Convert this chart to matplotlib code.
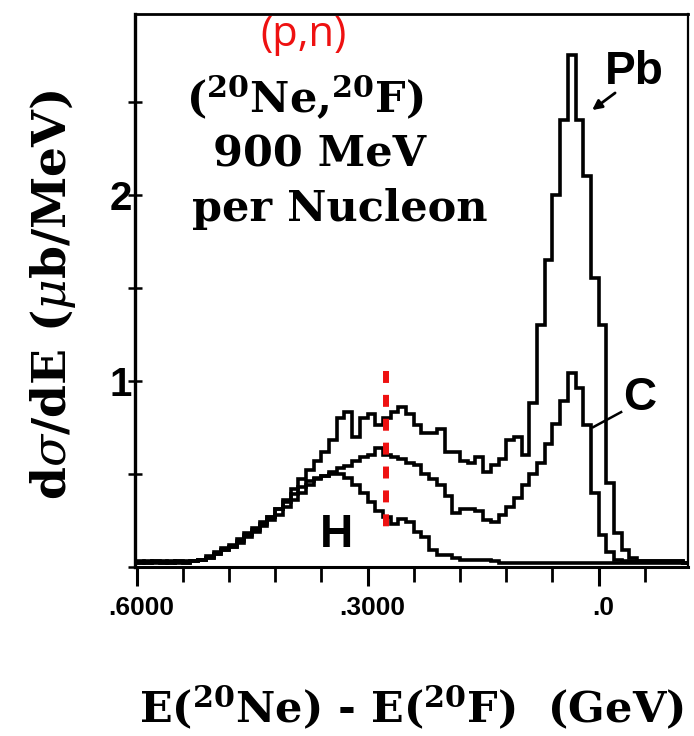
import matplotlib
matplotlib.use("Agg")
import matplotlib.pyplot as plt
import matplotlib.transforms as mtransforms
import numpy as np
from matplotlib.ticker import MultipleLocator, FixedLocator, FixedFormatter

plt.rcParams["mathtext.fontset"] = "dejavuserif"

# histogram bins: 10 MeV wide, listed from E = 0.60 GeV down to -0.12 GeV
bin_start = 0.60
bin_stop = -0.12
n_bins = 72

pb_vals = [0.02, 0.02, 0.03, 0.02, 0.02, 0.03, 0.02, 0.03,
           0.04, 0.05, 0.07, 0.09, 0.11, 0.14, 0.17, 0.20, 0.23, 0.27,
           0.31, 0.36, 0.42, 0.47, 0.52, 0.57, 0.62, 0.68, 0.80, 0.83,
           0.70, 0.80, 0.82, 0.76, 0.80, 0.83, 0.86, 0.82, 0.76, 0.72,
           0.72, 0.74, 0.62, 0.62, 0.57, 0.56, 0.59, 0.51, 0.55, 0.58,
           0.68, 0.70, 0.60, 0.88, 1.30, 1.65, 2.00, 2.40, 2.75, 2.40,
           2.10, 1.55, 1.30, 0.45, 0.18, 0.09, 0.05,
           0.03, 0.03, 0.03, 0.03, 0.03, 0.03, 0.02]

c_vals = [0.02, 0.03, 0.02, 0.02, 0.03, 0.02, 0.02, 0.03,
          0.04, 0.05, 0.07, 0.09, 0.11, 0.13, 0.16, 0.19, 0.22, 0.25,
          0.28, 0.32, 0.36, 0.40, 0.44, 0.47, 0.49, 0.51, 0.53, 0.54,
          0.57, 0.59, 0.60, 0.64, 0.60, 0.59, 0.58, 0.56, 0.55, 0.50,
          0.47, 0.44, 0.38, 0.29, 0.31, 0.31, 0.30, 0.25, 0.24, 0.28,
          0.32, 0.37, 0.44, 0.50, 0.56, 0.66, 0.77, 0.89, 1.04, 0.96,
          0.76, 0.40, 0.17, 0.08, 0.04,
          0.03, 0.03, 0.03, 0.03, 0.03, 0.03, 0.03, 0.03, 0.02]

h_vals = [0.03, 0.02, 0.03, 0.03, 0.02, 0.03, 0.03, 0.03,
          0.04, 0.06, 0.08, 0.10, 0.12, 0.15, 0.18, 0.21, 0.24, 0.27,
          0.31, 0.35, 0.39, 0.43, 0.46, 0.48, 0.49, 0.50, 0.50, 0.48,
          0.44, 0.40, 0.35, 0.30, 0.27, 0.23, 0.26, 0.24, 0.19, 0.16,
          0.09, 0.065, 0.065, 0.05, 0.04, 0.04, 0.04, 0.035, 0.03,
          0.02, 0.02, 0.02, 0.02, 0.02, 0.02, 0.02, 0.02, 0.02, 0.02,
          0.02, 0.02, 0.02, 0.02, 0.02, 0.02, 0.02, 0.02, 0.02, 0.02,
          0.02, 0.02, 0.02, 0.02, 0.02]

x_major = [0.6, 0.3, 0.0]
x_major_labels = [".6000", ".3000", ".0"]
y_major = [0, 1, 2]
y_major_labels = ["", "1", "2"]

marker_e = 0.276          # red dashed guide line
marker_span = (1.054, 0.211)

edges = np.linspace(bin_start, bin_stop, n_bins + 1)

fig = plt.figure(figsize=(6.94, 7.36), dpi=100)
ax = fig.add_axes([0.1945, 0.2296, 0.7968, 0.7514])

for vals in (pb_vals, c_vals, h_vals):
    # stairs wants increasing edges
    ax.stairs(np.array(vals)[::-1], edges[::-1], baseline=None,
              color="black", lw=2.6)

ax.plot([marker_e, marker_e], marker_span, color="#ee1111", lw=4.3,
        dashes=(2, 2), solid_capstyle="butt", dash_capstyle="butt")

ax.set_xlim(0.602, -0.116)
ax.set_ylim(0, 2.97)

for side, lw in (("left", 2.4), ("bottom", 2.2), ("top", 2.0), ("right", 1.6)):
    ax.spines[side].set_linewidth(lw)

ax.xaxis.set_major_locator(FixedLocator(x_major))
ax.xaxis.set_major_formatter(FixedFormatter(x_major_labels))
ax.xaxis.set_minor_locator(MultipleLocator(0.06))
ax.tick_params(axis="x", which="major", direction="out", length=14, width=2.2, pad=7)
ax.tick_params(axis="x", which="minor", direction="out", length=11, width=2.0)

ax.yaxis.set_major_locator(FixedLocator(y_major))
ax.yaxis.set_major_formatter(FixedFormatter(y_major_labels))
ax.yaxis.set_minor_locator(MultipleLocator(0.5))
ax.tick_params(axis="y", which="both", direction="inout", length=10, width=1.8, pad=-3)

# x tick labels sit a little right of their ticks in the original
shift = mtransforms.ScaledTranslation(5 / 100, 0, fig.dpi_scale_trans)
for lab in ax.get_xticklabels():
    lab.set_family(["Liberation Sans", "DejaVu Sans"])
    lab.set_fontweight("bold")
    lab.set_fontsize(19)
    lab.set_transform(lab.get_transform() + shift)
for lab in ax.get_yticklabels():
    lab.set_family(["Liberation Sans", "DejaVu Sans"])
    lab.set_fontweight("bold")
    lab.set_fontsize(29)

serif_bold = dict(family=["DejaVu Serif"], fontweight="bold")

ax.set_ylabel(r"d$\sigma$/dE ($\mu$b/MeV)", fontsize=34, **serif_bold)
ax.yaxis.set_label_coords(-0.148, 0.492)
ax.yaxis.label.set_va("center")
ax.set_xlabel(r"E($^{\mathbf{20}}$Ne) - E($^{\mathbf{20}}$F)  (GeV)", fontsize=31,
              **serif_bold)
ax.xaxis.set_label_coords(0.5, -0.255)
ax.xaxis.label.set_va("center")

# reaction text block
ax.text(0.304, 0.942, "(p,n)", transform=ax.transAxes, ha="center", va="baseline",
        color="#ee1111", fontsize=30, family=["Open Sans", "DejaVu Sans"])
ax.text(0.307, 0.821, r"($^{\mathbf{20}}$Ne,$^{\mathbf{20}}$F)", transform=ax.transAxes,
        ha="center", va="baseline", fontsize=31, **serif_bold)
ax.text(0.333, 0.725, "900 MeV", transform=ax.transAxes,
        ha="center", va="baseline", fontsize=31, **serif_bold)
ax.text(0.371, 0.626, "per Nucleon", transform=ax.transAxes,
        ha="center", va="baseline", fontsize=31, **serif_bold)

# curve labels
lab_font = dict(family=["Liberation Sans", "DejaVu Sans"], fontweight="bold",
                fontsize=33, ha="center", va="baseline")
ax.text(-0.046, 2.595, "Pb", **lab_font)
ax.text(-0.053, 0.843, "C", **lab_font)
ax.text(0.340, 0.108, "H", **lab_font)

ax.annotate("", xy=(0.0084, 2.454), xytext=(-0.0214, 2.546),
            arrowprops=dict(arrowstyle="-|>", color="black", lw=2.0,
                            mutation_scale=14, shrinkA=0, shrinkB=0))
ax.plot([-0.0292, 0.0071], [0.832, 0.751], color="black", lw=1.8)

fig.savefig("out.png", dpi=100)
